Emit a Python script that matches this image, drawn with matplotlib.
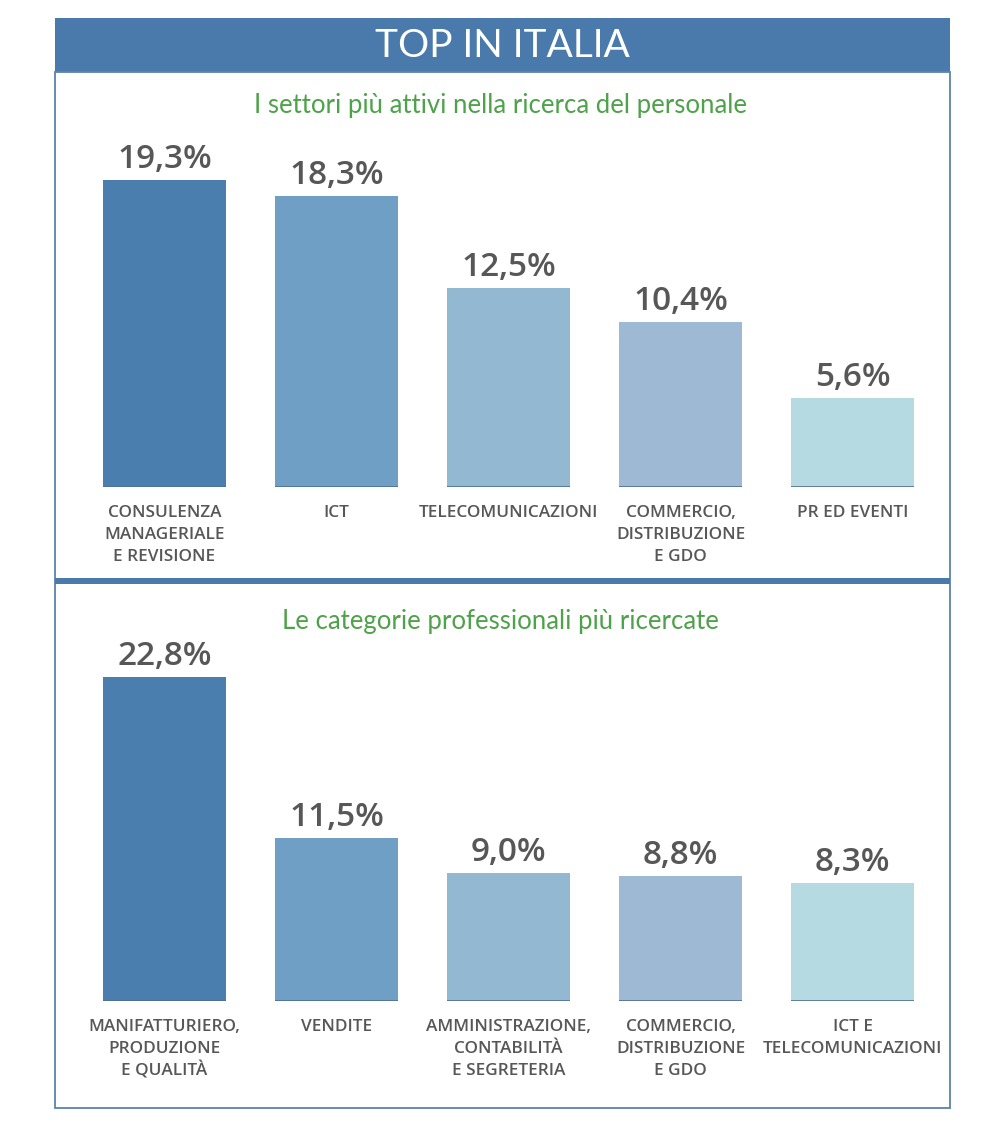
import matplotlib
matplotlib.use("Agg")
import matplotlib.pyplot as plt
from matplotlib.patches import Rectangle

# ---- data ----
title = "TOP IN ITALIA"
sub_top = "I settori più attivi nella ricerca del personale"
sub_bot = "Le categorie professionali più ricercate"

cats_top = ["CONSULENZA\nMANAGERIALE\nE REVISIONE", "ICT", "TELECOMUNICAZIONI",
            "COMMERCIO,\nDISTRIBUZIONE\nE GDO", "PR ED EVENTI"]
vals_top = [19.3, 18.3, 12.5, 10.4, 5.6]

cats_bot = ["MANIFATTURIERO,\nPRODUZIONE\nE QUALITÀ", "VENDITE",
            "AMMINISTRAZIONE,\nCONTABILITÀ\nE SEGRETERIA",
            "COMMERCIO,\nDISTRIBUZIONE\nE GDO", "ICT E\nTELECOMUNICAZIONI"]
vals_bot = [22.8, 11.5, 9.0, 8.8, 8.3]

colors = ["#4a7eae", "#6f9fc4", "#93b8d2", "#9db9d3", "#b6dae1"]

W, H = 1005, 1124
fig = plt.figure(figsize=(W / 100, H / 100), dpi=100)
fig.patch.set_facecolor("white")

LATO = ["Lato", "DejaVu Sans"]
OPEN = ["Open Sans", "DejaVu Sans"]
GRAY = "#575757"
BLUE = "#4a7aab"
GREEN = "#4ea24a"


def fx(px):
    return px / W


def fy(py):
    return 1 - py / H


ov = fig.add_axes([0, 0, 1, 1])
ov.set_xlim(0, W)
ov.set_ylim(H, 0)
ov.axis("off")
ov.set_zorder(5)
ov.patch.set_alpha(0)

ov.add_patch(Rectangle((55, 18), 895, 54, facecolor=BLUE, edgecolor="none"))
ov.text(502, 46, title, color="white", fontsize=28, family=LATO,
        ha="center", va="center")
ov.add_patch(Rectangle((55, 72), 895, 1036, facecolor="none",
                       edgecolor="#5a84aa", lw=1.3))
ov.add_patch(Rectangle((55, 578), 895, 6, facecolor=BLUE, edgecolor="none"))
ov.text(500, 106, sub_top, color=GREEN, fontsize=18.5, family=LATO,
        ha="center", va="center")
ov.text(500, 621, sub_bot, color=GREEN, fontsize=18.5, family=LATO,
        ha="center", va="center")

bw = 123 / 172
c0 = 164.5
step = 172.0
xl = ((55 - c0) / step, (950 - c0) / step)
PT = 0.72  # points per pixel at dpi 100


def panel(top_px, base_px, ppu, cats, vals):
    ax = fig.add_axes([fx(55), fy(base_px), fx(950 - 55), (base_px - top_px) / H])
    ax.set_xlim(*xl)
    ax.set_ylim(0, (base_px - top_px) / ppu)
    ax.axis("off")
    ax.patch.set_alpha(0)
    xs = list(range(len(vals)))
    ax.bar(xs, vals, width=bw, color=colors, edgecolor="none")
    ax.hlines([0] * len(xs), [x - bw / 2 for x in xs], [x + bw / 2 for x in xs],
              color="#4f6f90", lw=1.2)
    for x, v, c in zip(xs, vals, cats):
        ax.annotate(f"{v:.1f}".replace(".", ",") + "%", (x, v),
                    xytext=(0, 12 * PT), textcoords="offset points",
                    ha="center", va="baseline", fontsize=24, color=GRAY,
                    family=OPEN, fontweight="semibold")
        for k, line in enumerate(c.split("\n")):
            ax.annotate(line, (x, 0), xytext=(0, -(24 + 22 * k) * PT),
                        textcoords="offset points",
                        ha="center", va="center_baseline", fontsize=12.4,
                        color=GRAY, family=OPEN, fontweight="semibold",
                        annotation_clip=False)
    return ax


panel(130, 487, 15.9, cats_top, vals_top)
panel(640, 1001, 14.2, cats_bot, vals_bot)

fig.savefig("out.png", dpi=100, facecolor="white")
